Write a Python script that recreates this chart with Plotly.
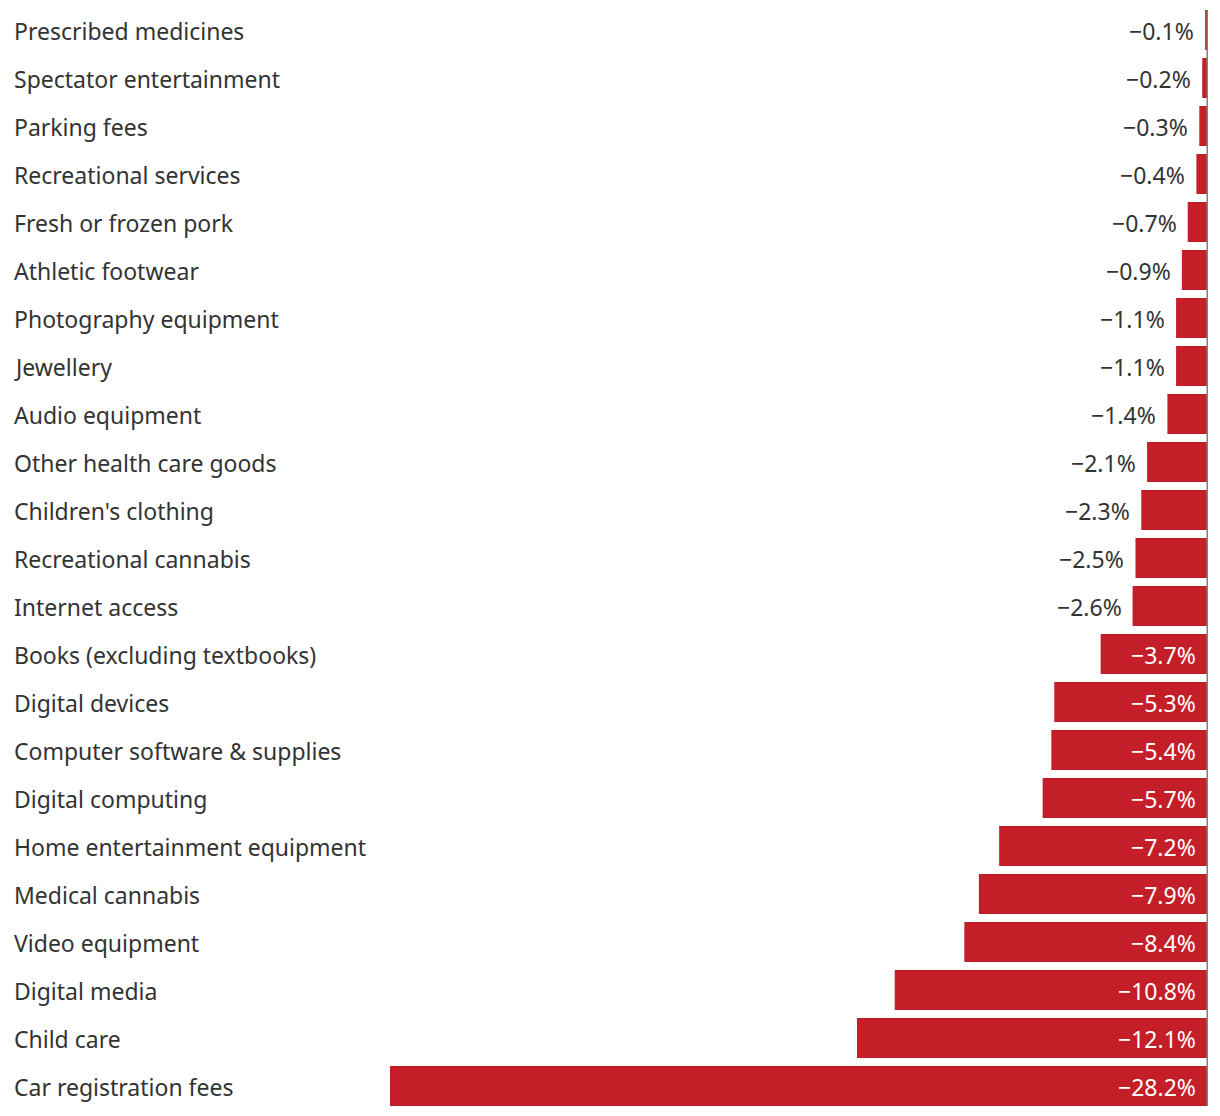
import plotly.graph_objects as go

categories = [
    "Prescribed medicines", "Spectator entertainment", "Parking fees", "Recreational services",
    "Fresh or frozen pork", "Athletic footwear", "Photography equipment", "Jewellery",
    "Audio equipment", "Other health care goods", "Children's clothing", "Recreational cannabis",
    "Internet access", "Books (excluding textbooks)", "Digital devices",
    "Computer software & supplies", "Digital computing", "Home entertainment equipment",
    "Medical cannabis", "Video equipment", "Digital media", "Child care", "Car registration fees",
]
values = [-0.1, -0.2, -0.3, -0.4, -0.7, -0.9, -1.1, -1.1, -1.4, -2.1, -2.3, -2.5, -2.6,
          -3.7, -5.3, -5.4, -5.7, -7.2, -7.9, -8.4, -10.8, -12.1, -28.2]
# labels placed inside the bar from this index on
inside_from = 13

BAR = "#c41f28"
TXT = "#333333"
FONT = "Noto Sans"
FS = 23

fig = go.Figure(go.Bar(
    y=categories, x=values, orientation="h",
    marker=dict(color=BAR, line=dict(width=0)),
    hoverinfo="skip",
))

ann = []
for i, (c, v) in enumerate(zip(categories, values)):
    ann.append(dict(x=0, xref="paper", xshift=-(390 - 12), y=c, yref="y", yshift=-1,
                    text=c, showarrow=False, xanchor="left", yanchor="middle",
                    font=dict(family=FONT, size=FS, color=TXT)))
    lab = "\u2212" + f"{abs(v):.1f}%"
    if i >= inside_from:
        ann.append(dict(x=0, xref="x", xshift=-10, y=c, yref="y", yshift=-1, text=lab,
                        showarrow=False, xanchor="right", yanchor="middle",
                        font=dict(family=FONT, size=FS, color="white")))
    else:
        ann.append(dict(x=v, xref="x", xshift=-9, y=c, yref="y", yshift=-1, text=lab,
                        showarrow=False, xanchor="right", yanchor="middle",
                        font=dict(family=FONT, size=FS, color=TXT)))

n = len(categories)
gap = 8 / 48
fig.update_layout(
    width=1220, height=1116,
    margin=dict(l=390, r=12, t=6, b=6),
    paper_bgcolor="white", plot_bgcolor="white",
    showlegend=False, bargap=gap,
    xaxis=dict(range=[min(values), 0], visible=False, fixedrange=True),
    yaxis=dict(autorange="reversed", visible=False, fixedrange=True,
               categoryorder="array", categoryarray=categories),
    annotations=ann,
    shapes=[dict(type="line", xref="x", yref="y", x0=0, x1=0,
                 y0=-0.5 + gap / 2, y1=n - 0.5 - gap / 2,
                 line=dict(color="#808080", width=3), layer="above")],
)
fig.write_html("out.html", config={"displayModeBar": False},
               post_script="document.body.style.margin='0';")
